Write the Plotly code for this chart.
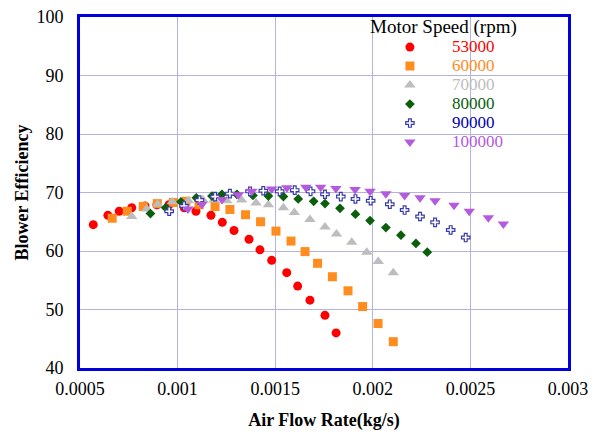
import plotly.graph_objects as go

speeds = ["53000", "60000", "70000", "80000", "90000", "100000"]

x_53000 = [0.000568, 0.000643, 0.000701, 0.000765, 0.000833, 0.000894, 0.000956, 0.001034,
           0.001094, 0.001171, 0.001229, 0.001289, 0.001366, 0.001422, 0.001482, 0.001559,
           0.001615, 0.001678, 0.001755, 0.001812]
y_53000 = [64.5, 66.1, 66.8, 67.4, 67.7, 67.9, 67.9, 67.4, 66.8, 66.1, 64.9, 63.5, 62.0,
           60.2, 58.4, 56.3, 54.0, 51.6, 49.0, 46.0]

x_60000 = [0.000665, 0.000742, 0.000824, 0.000896, 0.000978, 0.001043, 0.001110, 0.001192,
           0.001268, 0.001348, 0.001425, 0.001504, 0.001581, 0.001653, 0.001717, 0.001793,
           0.001873, 0.001948, 0.002027, 0.002105]
y_60000 = [65.6, 66.8, 67.6, 68.1, 68.3, 68.5, 67.9, 67.6, 67.1, 66.2, 65.0, 63.4, 61.7,
           59.9, 57.9, 55.6, 53.2, 50.5, 47.6, 44.5]

x_70000 = [0.000765, 0.000842, 0.000898, 0.000973, 0.001055, 0.001130, 0.001186, 0.001252,
           0.001328, 0.001402, 0.001465, 0.001542, 0.001598, 0.001678, 0.001755, 0.001814,
           0.001892, 0.001969, 0.002028, 0.002105]
y_70000 = [65.9, 67.2, 68.0, 68.4, 68.6, 68.7, 68.7, 68.6, 68.7, 68.2, 67.9, 67.4, 66.6,
           65.4, 64.1, 62.9, 61.5, 59.8, 58.2, 56.3]

x_80000 = [0.000861, 0.000939, 0.001017, 0.001096, 0.001176, 0.001227, 0.001304, 0.001386,
           0.001465, 0.001542, 0.001618, 0.001697, 0.001755, 0.001832, 0.001911, 0.001986,
           0.002067, 0.002144, 0.002221, 0.002279]
y_80000 = [66.4, 67.4, 68.4, 69.1, 69.4, 69.7, 69.7, 69.5, 69.4, 69.3, 68.9, 68.5, 68.1,
           67.3, 66.3, 65.2, 64.0, 62.7, 61.3, 59.8]

x_90000 = [0.000957, 0.001033, 0.001112, 0.001192, 0.001268, 0.001371, 0.001439, 0.001523,
           0.001600, 0.001681, 0.001755, 0.001836, 0.001911, 0.001989, 0.002087, 0.002163,
           0.002242, 0.002319, 0.002399, 0.002476]
y_90000 = [66.8, 67.7, 68.7, 69.3, 69.8, 70.2, 70.3, 70.2, 70.4, 70.2, 69.7, 69.3, 68.9,
           68.6, 68.0, 67.0, 65.9, 64.9, 63.6, 62.3]

x_100000 = [0.001053, 0.001125, 0.001227, 0.001311, 0.001380, 0.001482, 0.001560, 0.001657,
            0.001733, 0.001811, 0.001909, 0.001986, 0.002067, 0.002163, 0.002242, 0.002319,
            0.002416, 0.002494, 0.002592, 0.002669]
y_100000 = [67.2, 68.0, 68.8, 69.6, 70.2, 70.6, 70.8, 70.9, 70.9, 70.7, 70.5, 70.2, 69.8,
            69.5, 69.1, 68.6, 67.8, 66.8, 65.7, 64.6]

x_ticks = [0.0005, 0.001, 0.0015, 0.002, 0.0025, 0.003]
x_ticklabels = ["0.0005", "0.001", "0.0015", "0.002", "0.0025", "0.003"]
y_ticks = [40, 50, 60, 70, 80, 90, 100]

series = [
    (x_53000, y_53000, "circle", 9, "#ff0000", "#ff0000", "#ff0000"),
    (x_60000, y_60000, "square", 9, "#ff8c1e", "#ff8c1e", "#ff8c1e"),
    (x_70000, y_70000, "triangle-up", 10, "#bdbdbd", "#bdbdbd", "#bdbdbd"),
    (x_80000, y_80000, "diamond", 7.5, "#0b5e0b", "#0b5e0b", "#0b5e0b"),
    (x_90000, y_90000, "cross", 7, "#ffffff", "#3b3ba8", "#0000b4"),
    (x_100000, y_100000, "triangle-down", 10, "#b45ade", "#b45ade", "#b45ade"),
]

FONT = "Times New Roman"

fig = go.Figure()
for name, (xs, ys, sym, size, fill, line, txt) in zip(speeds, series):
    fig.add_trace(go.Scatter(
        x=xs, y=ys, mode="markers",
        name=f'<span style="color:{txt};font-size:17px">{name}</span>',
        marker=dict(symbol=sym, size=size, color=fill,
                    line=dict(color=line, width=1.2 if sym == "cross" else 0)),
    ))

fig.update_layout(
    width=595, height=430,
    margin=dict(l=72, r=35, t=9, b=70, autoexpand=False),
    paper_bgcolor="white", plot_bgcolor="white",
    font=dict(family=FONT, size=18, color="black"),
    showlegend=True,
    legend=dict(
        x=0.59, y=1.026, xanchor="left", yanchor="top",
        bgcolor="rgba(0,0,0,0)",
        title=dict(text="Motor Speed (rpm)", side="top center",
                   font=dict(family=FONT, size=19, color="black")),
        font=dict(family=FONT, size=12),
        itemwidth=74, tracegroupgap=0,
    ),
    xaxis=dict(
        range=[0.0005, 0.003], tickvals=x_ticks, ticktext=x_ticklabels,
        showgrid=True, gridcolor="#b4b4da", gridwidth=1, automargin=False,
        showline=True, linecolor="#0000dd", linewidth=3, mirror=True,
        zeroline=False, ticks="", ticklabelstandoff=2, ticklabeloverflow="allow",
        tickfont=dict(family=FONT, size=18),
        title=dict(text="<b>Air Flow Rate(kg/s)</b>", standoff=16,
                   font=dict(family=FONT, size=18)),
    ),
    yaxis=dict(
        range=[40, 100], tickvals=y_ticks,
        showgrid=True, gridcolor="#b4b4da", gridwidth=1, automargin=False,
        showline=True, linecolor="#0000dd", linewidth=3, mirror=True,
        zeroline=False, ticks="", ticklabelstandoff=10, ticklabeloverflow="allow",
        tickfont=dict(family=FONT, size=18),
        title=dict(text="<b>Blower Efficiency</b>", standoff=4,
                   font=dict(family=FONT, size=18)),
    ),
)

fig.write_html("out.html")
